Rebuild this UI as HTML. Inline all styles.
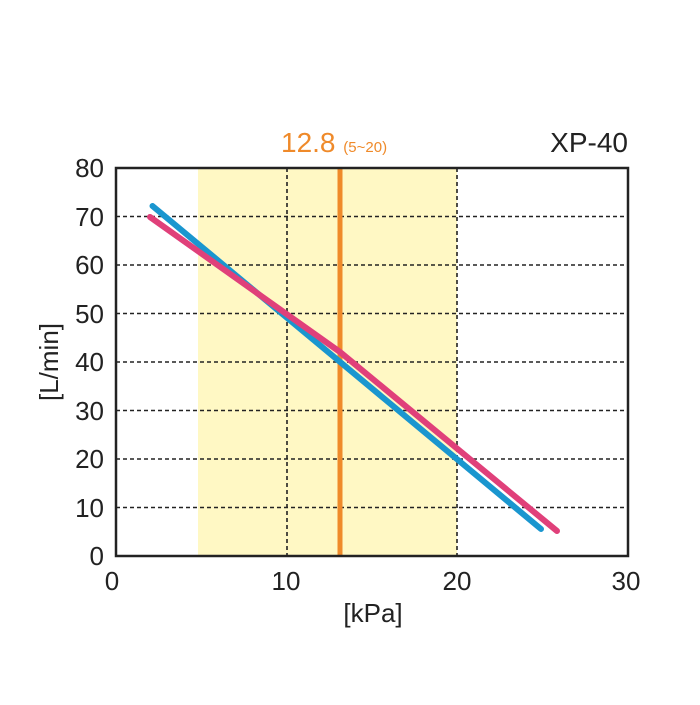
<!DOCTYPE html>
<html><head><style>body{margin:0;background:#fff}</style></head><body>
<svg width="700" height="700" xmlns="http://www.w3.org/2000/svg" font-family="Liberation Sans, sans-serif">
<rect x="198" y="168" width="259" height="388" fill="#fff8c4"/>
<g stroke="#222" stroke-width="1.6" stroke-dasharray="4,3">
<line x1="116" x2="628" y1="216.5" y2="216.5"/>
<line x1="116" x2="628" y1="265" y2="265"/>
<line x1="116" x2="628" y1="313.5" y2="313.5"/>
<line x1="116" x2="628" y1="362" y2="362"/>
<line x1="116" x2="628" y1="410.5" y2="410.5"/>
<line x1="116" x2="628" y1="459" y2="459"/>
<line x1="116" x2="628" y1="507.5" y2="507.5"/>
<line x1="287" x2="287" y1="168" y2="556"/>
<line x1="457" x2="457" y1="168" y2="556"/>
</g>
<line x1="340" x2="340" y1="168" y2="556" stroke="#ef8a2a" stroke-width="5"/>
<line x1="152.5" y1="206" x2="541" y2="529" stroke="#1a96cf" stroke-width="6" stroke-linecap="round"/>
<polyline points="150,217 340,352 557,531" fill="none" stroke="#e0407a" stroke-width="6" stroke-linecap="round" stroke-linejoin="round"/>
<rect x="116" y="168" width="512" height="388" fill="none" stroke="#222" stroke-width="2.5"/>
<g font-size="26" fill="#222" text-anchor="end">
<text x="104" y="177">80</text><text x="104" y="226">70</text><text x="104" y="274">60</text>
<text x="104" y="323">50</text><text x="104" y="371">40</text><text x="104" y="420">30</text>
<text x="104" y="468">20</text><text x="104" y="517">10</text><text x="104" y="565">0</text>
</g>
<g font-size="26" fill="#222" text-anchor="middle">
<text x="112" y="590">0</text><text x="286" y="590">10</text><text x="457" y="590">20</text><text x="626" y="590">30</text>
<text x="373" y="622">[kPa]</text>
<text x="628" y="152" text-anchor="end" font-size="28">XP-40</text>
</g>
<text x="58" y="362" font-size="26" fill="#222" text-anchor="middle" transform="rotate(-90 58 362)">[L/min]</text>
<text x="281" y="152" font-size="28" fill="#ef8a2a">12.8 <tspan font-size="15">(5~20)</tspan></text>
</svg>
</body></html>
